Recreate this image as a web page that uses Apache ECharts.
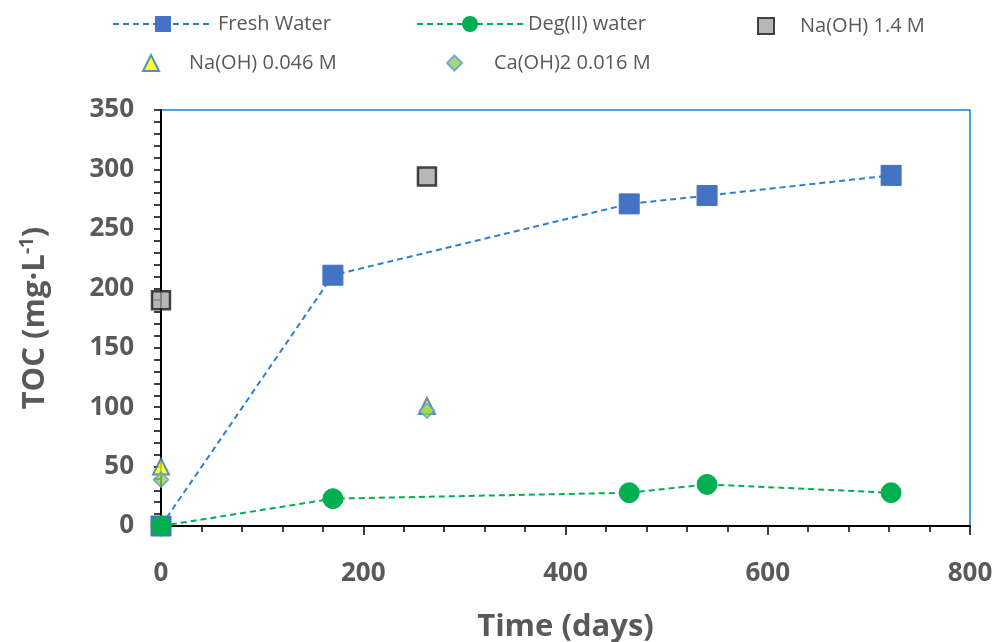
<!DOCTYPE html>
<html>
<head>
<meta charset="utf-8">
<script src="https://cdn.jsdelivr.net/npm/echarts@6/dist/echarts.min.js"></script>
<style>
  html, body { margin: 0; padding: 0; background: #fff; }
  #chart { width: 998px; height: 642px; }
</style>
</head>
<body>
<div id="chart"></div>
<script>
// data (time in days, TOC in mg/L)
const freshWater = [[0, 0], [170, 211], [463, 271], [540, 278], [722, 295]];
const degWater = [[0, 0], [170, 23], [463, 28], [540, 35], [722, 28]];
const naoh14 = [[0, 190], [263, 294]];
const naoh0046 = [[0, 50], [263, 101]];
const caoh2 = [[0, 39], [263, 97]];

const xTicks = [0, 200, 400, 600, 800];
const yTicks = [0, 50, 100, 150, 200, 250, 300, 350];

const grey = '#595959';
const font = 'Open Sans';

const chart = echarts.init(document.getElementById('chart'));

function legendBox(name, left, top, w, h, pad) {
  return {
    data: [name],
    left: left,
    top: top,
    itemWidth: w,
    itemHeight: h,
    textStyle: { color: grey, fontSize: 20, fontFamily: font, padding: [0, 0, 0, pad] }
  };
}

chart.setOption({
  animation: false,
  legend: [
    legendBox('Fresh Water', 107, 9, 100, 20, 0),
    legendBox('Deg(II) water', 411, 9, 106, 20, 0),
    legendBox('Na(OH) 1.4 M', 752, 11, 16, 16, 21),
    legendBox('Na(OH) 0.046 M', 137, 48, 16, 16, 25),
    legendBox('Ca(OH)2 0.016 M', 441, 48, 15, 15, 27)
  ],
  grid: {
    left: 161, right: 28, top: 110, bottom: 116,
    outerBoundsMode: 'none',
    show: true, borderColor: '#1f7fd0', borderWidth: 1.5, backgroundColor: 'transparent'
  },
  xAxis: {
    type: 'value',
    min: xTicks[0], max: xTicks[xTicks.length - 1], interval: 200,
    name: 'Time (days)',
    nameLocation: 'middle',
    nameGap: 86,
    nameTextStyle: { color: grey, fontSize: 31, fontWeight: 'bold', fontFamily: font },
    axisLine: { lineStyle: { color: '#000', width: 2 } },
    axisTick: { inside: false, length: 9, lineStyle: { color: '#000', width: 1.5 } },
    minorTick: { show: true, splitNumber: 5, length: 6, lineStyle: { color: '#000', width: 1.5 } },
    axisLabel: { color: grey, fontSize: 26, fontWeight: 'bold', fontFamily: font, margin: 35 },
    splitLine: { show: false }
  },
  yAxis: {
    type: 'value',
    min: yTicks[0], max: yTicks[yTicks.length - 1], interval: 50,
    name: '{a|TOC (mg·L}{s|-1}{a|)}',
    nameLocation: 'middle',
    nameGap: 108,
    nameTextStyle: {
      rich: {
        a: { color: grey, fontSize: 31, fontWeight: 'bold', fontFamily: font },
        s: { color: grey, fontSize: 19, fontWeight: 'bold', fontFamily: font, verticalAlign: 'top', padding: [0, 0, 16, 0] }
      }
    },
    axisLine: { lineStyle: { color: '#000', width: 2 } },
    axisTick: { inside: false, length: 7, lineStyle: { color: '#000', width: 1.5 } },
    minorTick: { show: true, splitNumber: 5, length: 7, lineStyle: { color: '#000', width: 1.5 } },
    axisLabel: { color: grey, fontSize: 26, fontWeight: 'bold', fontFamily: font, margin: 27 },
    splitLine: { show: false }
  },
  series: [
    {
      name: 'Fresh Water',
      type: 'line',
      data: freshWater,
      symbol: 'rect',
      symbolSize: 20,
      itemStyle: { color: '#4472c4', borderColor: '#4472c4' },
      lineStyle: { color: '#2e7fd2', type: [6, 4], width: 2 },
      z: 2
    },
    {
      name: 'Deg(II) water',
      type: 'line',
      data: degWater,
      symbol: 'circle',
      symbolSize: 20,
      itemStyle: { color: '#00b050', borderColor: '#00b050' },
      lineStyle: { color: '#00b050', type: [6, 4], width: 2 },
      z: 3
    },
    {
      name: 'Na(OH) 1.4 M',
      type: 'scatter',
      data: naoh14,
      symbol: 'rect',
      symbolSize: 18,
      itemStyle: { color: '#a5a5a5', borderColor: '#1a1a1a', borderWidth: 2.5 },
      z: 4
    },
    {
      name: 'Na(OH) 0.046 M',
      type: 'scatter',
      data: naoh0046,
      symbol: 'triangle',
      symbolSize: 16,
      itemStyle: { color: '#ffff00', borderColor: '#2e75b6', borderWidth: 2 },
      z: 4
    },
    {
      name: 'Ca(OH)2 0.016 M',
      type: 'scatter',
      data: caoh2,
      symbol: 'diamond',
      symbolSize: 15,
      itemStyle: { color: '#92d050', borderColor: '#5b9bd5', borderWidth: 1.5 },
      z: 5
    }
  ]
});
</script>
</body>
</html>
